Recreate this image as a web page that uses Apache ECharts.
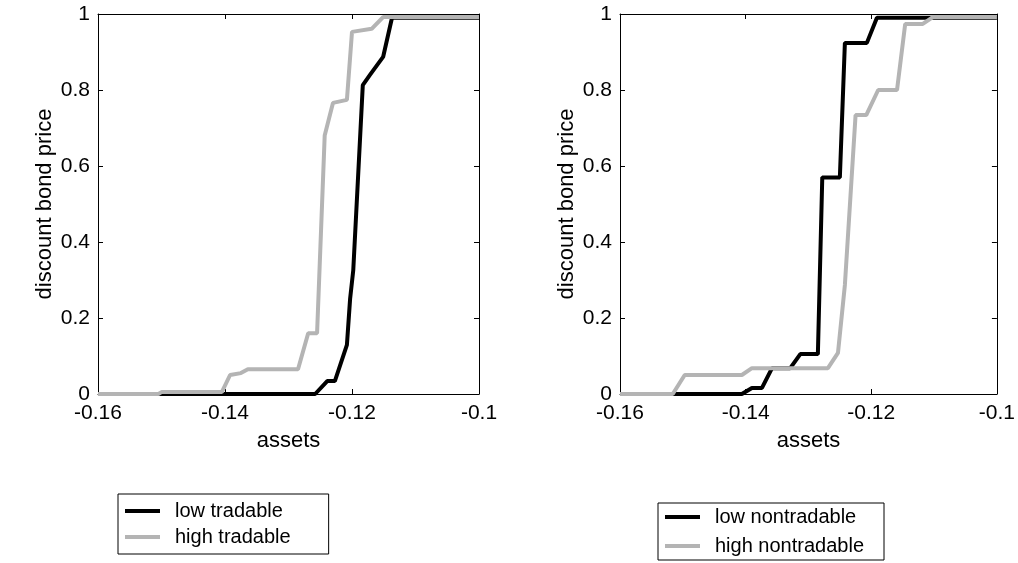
<!DOCTYPE html>
<html>
<head>
<meta charset="utf-8">
<script src="https://cdn.jsdelivr.net/npm/echarts@6/dist/echarts.min.js"></script>
<style>
  html, body { margin: 0; padding: 0; background: #fff; }
  #chart { width: 1018px; height: 563px; }
</style>
</head>
<body>
<div id="chart"></div>
<script>
// tick labels
var xTicks = [-0.16, -0.14, -0.12, -0.1];
var yTicks = [0, 0.2, 0.4, 0.6, 0.8, 1];

// left panel: tradable
var lowTradX  = [-0.16, -0.1258, -0.1239, -0.1227, -0.1208, -0.1203, -0.1198, -0.1183, -0.1172, -0.1151, -0.1137, -0.10];
var lowTradY  = [0, 0, 0.034, 0.034, 0.129, 0.25, 0.326, 0.813, 0.839, 0.887, 0.99, 0.99];
var highTradX = [-0.16, -0.1505, -0.150, -0.1405, -0.1392, -0.1375, -0.1364, -0.1285, -0.1269, -0.1255, -0.1243, -0.123, -0.1208, -0.120, -0.1169, -0.1151, -0.10];
var highTradY = [0, 0, 0.005, 0.005, 0.05, 0.055, 0.065, 0.065, 0.16, 0.16, 0.68, 0.766, 0.774, 0.953, 0.961, 0.992, 0.992];

// right panel: nontradable
var lowNonX  = [-0.16, -0.1406, -0.139, -0.1374, -0.1358, -0.1329, -0.1313, -0.1285, -0.1278, -0.125, -0.1242, -0.1207, -0.1191, -0.10];
var lowNonY  = [0, 0, 0.016, 0.016, 0.068, 0.068, 0.105, 0.105, 0.57, 0.57, 0.924, 0.924, 0.99, 0.99];
var highNonX = [-0.16, -0.1516, -0.1497, -0.1406, -0.139, -0.1269, -0.1253, -0.1242, -0.1225, -0.1208, -0.1189, -0.1159, -0.1146, -0.1118, -0.1102, -0.10];
var highNonY = [0, 0, 0.05, 0.05, 0.068, 0.068, 0.108, 0.287, 0.734, 0.734, 0.80, 0.80, 0.974, 0.974, 0.992, 0.992];

var FONT = 'Liberation Sans, Arial, sans-serif';
var BLACK = '#000000';
var GREY = '#b4b4b4';

function zip(xs, ys) {
  var out = [];
  for (var i = 0; i < xs.length; i++) out.push([xs[i], ys[i]]);
  return out;
}

function fmt(v) {
  return String(+v.toFixed(2));
}

// x axis (bottom with labels, top only ticks)
function xAxisFor(grid, top) {
  return {
    type: 'value', gridIndex: grid, position: top ? 'top' : 'bottom',
    min: xTicks[0], max: xTicks[xTicks.length - 1], interval: 0.02,
    name: top ? '' : 'assets', nameLocation: 'middle', nameGap: 36,
    nameTextStyle: { fontFamily: FONT, fontSize: 22, color: BLACK },
    axisLine: { show: true, onZero: false, lineStyle: { color: BLACK, width: 1 } },
    axisTick: { show: true, inside: true, length: 5, lineStyle: { color: BLACK } },
    axisLabel: { show: !top, margin: 9, fontFamily: FONT, fontSize: 21, color: BLACK, formatter: fmt },
    splitLine: { show: false }
  };
}

function yAxisFor(grid, right) {
  return {
    type: 'value', gridIndex: grid, position: right ? 'right' : 'left',
    min: yTicks[0], max: yTicks[yTicks.length - 1], interval: 0.2,
    name: right ? '' : 'discount bond price', nameLocation: 'middle', nameGap: 42, nameRotate: 90,
    nameTextStyle: { fontFamily: FONT, fontSize: 22, color: BLACK },
    axisLine: { show: true, onZero: false, lineStyle: { color: BLACK, width: 1 } },
    axisTick: { show: true, inside: true, length: 5, lineStyle: { color: BLACK } },
    axisLabel: { show: !right, margin: 8, fontFamily: FONT, fontSize: 21, color: BLACK, formatter: fmt },
    splitLine: { show: false }
  };
}

function lineSeries(name, grid, xs, ys, color) {
  return {
    name: name, type: 'line', xAxisIndex: grid * 2, yAxisIndex: grid * 2,
    data: zip(xs, ys), showSymbol: false, symbol: 'none', animation: false,
    lineStyle: { color: color, width: 4 }, itemStyle: { color: color }
  };
}

function legendFor(names, left, top, pad, gap) {
  return {
    data: names, orient: 'vertical', left: left, top: top,
    icon: 'rect', itemWidth: 35, itemHeight: 4, itemGap: gap,
    padding: pad, borderColor: BLACK, borderWidth: 1, backgroundColor: '#fff',
    textStyle: { fontFamily: FONT, fontSize: 20, color: BLACK, lineHeight: 22, padding: [0, 0, 0, 10] }
  };
}

var chart = echarts.init(document.getElementById('chart'));
chart.setOption({
  backgroundColor: '#fff',
  animation: false,
  grid: [
    { left: 98, top: 14, width: 381, height: 380 },
    { left: 620, top: 14, width: 377, height: 380 }
  ],
  xAxis: [xAxisFor(0, false), xAxisFor(0, true), xAxisFor(1, false), xAxisFor(1, true)],
  yAxis: [yAxisFor(0, false), yAxisFor(0, true), yAxisFor(1, false), yAxisFor(1, true)],
  legend: [
    legendFor(['low tradable', 'high tradable'], 118, 494, [6, 38, 6, 7], 4),
    legendFor(['low nontradable', 'high nontradable'], 658, 503, [3, 20, 3, 7], 7)
  ],
  series: [
    lineSeries('low tradable', 0, lowTradX, lowTradY, BLACK),
    lineSeries('high tradable', 0, highTradX, highTradY, GREY),
    lineSeries('low nontradable', 1, lowNonX, lowNonY, BLACK),
    lineSeries('high nontradable', 1, highNonX, highNonY, GREY)
  ]
});
</script>
</body>
</html>
